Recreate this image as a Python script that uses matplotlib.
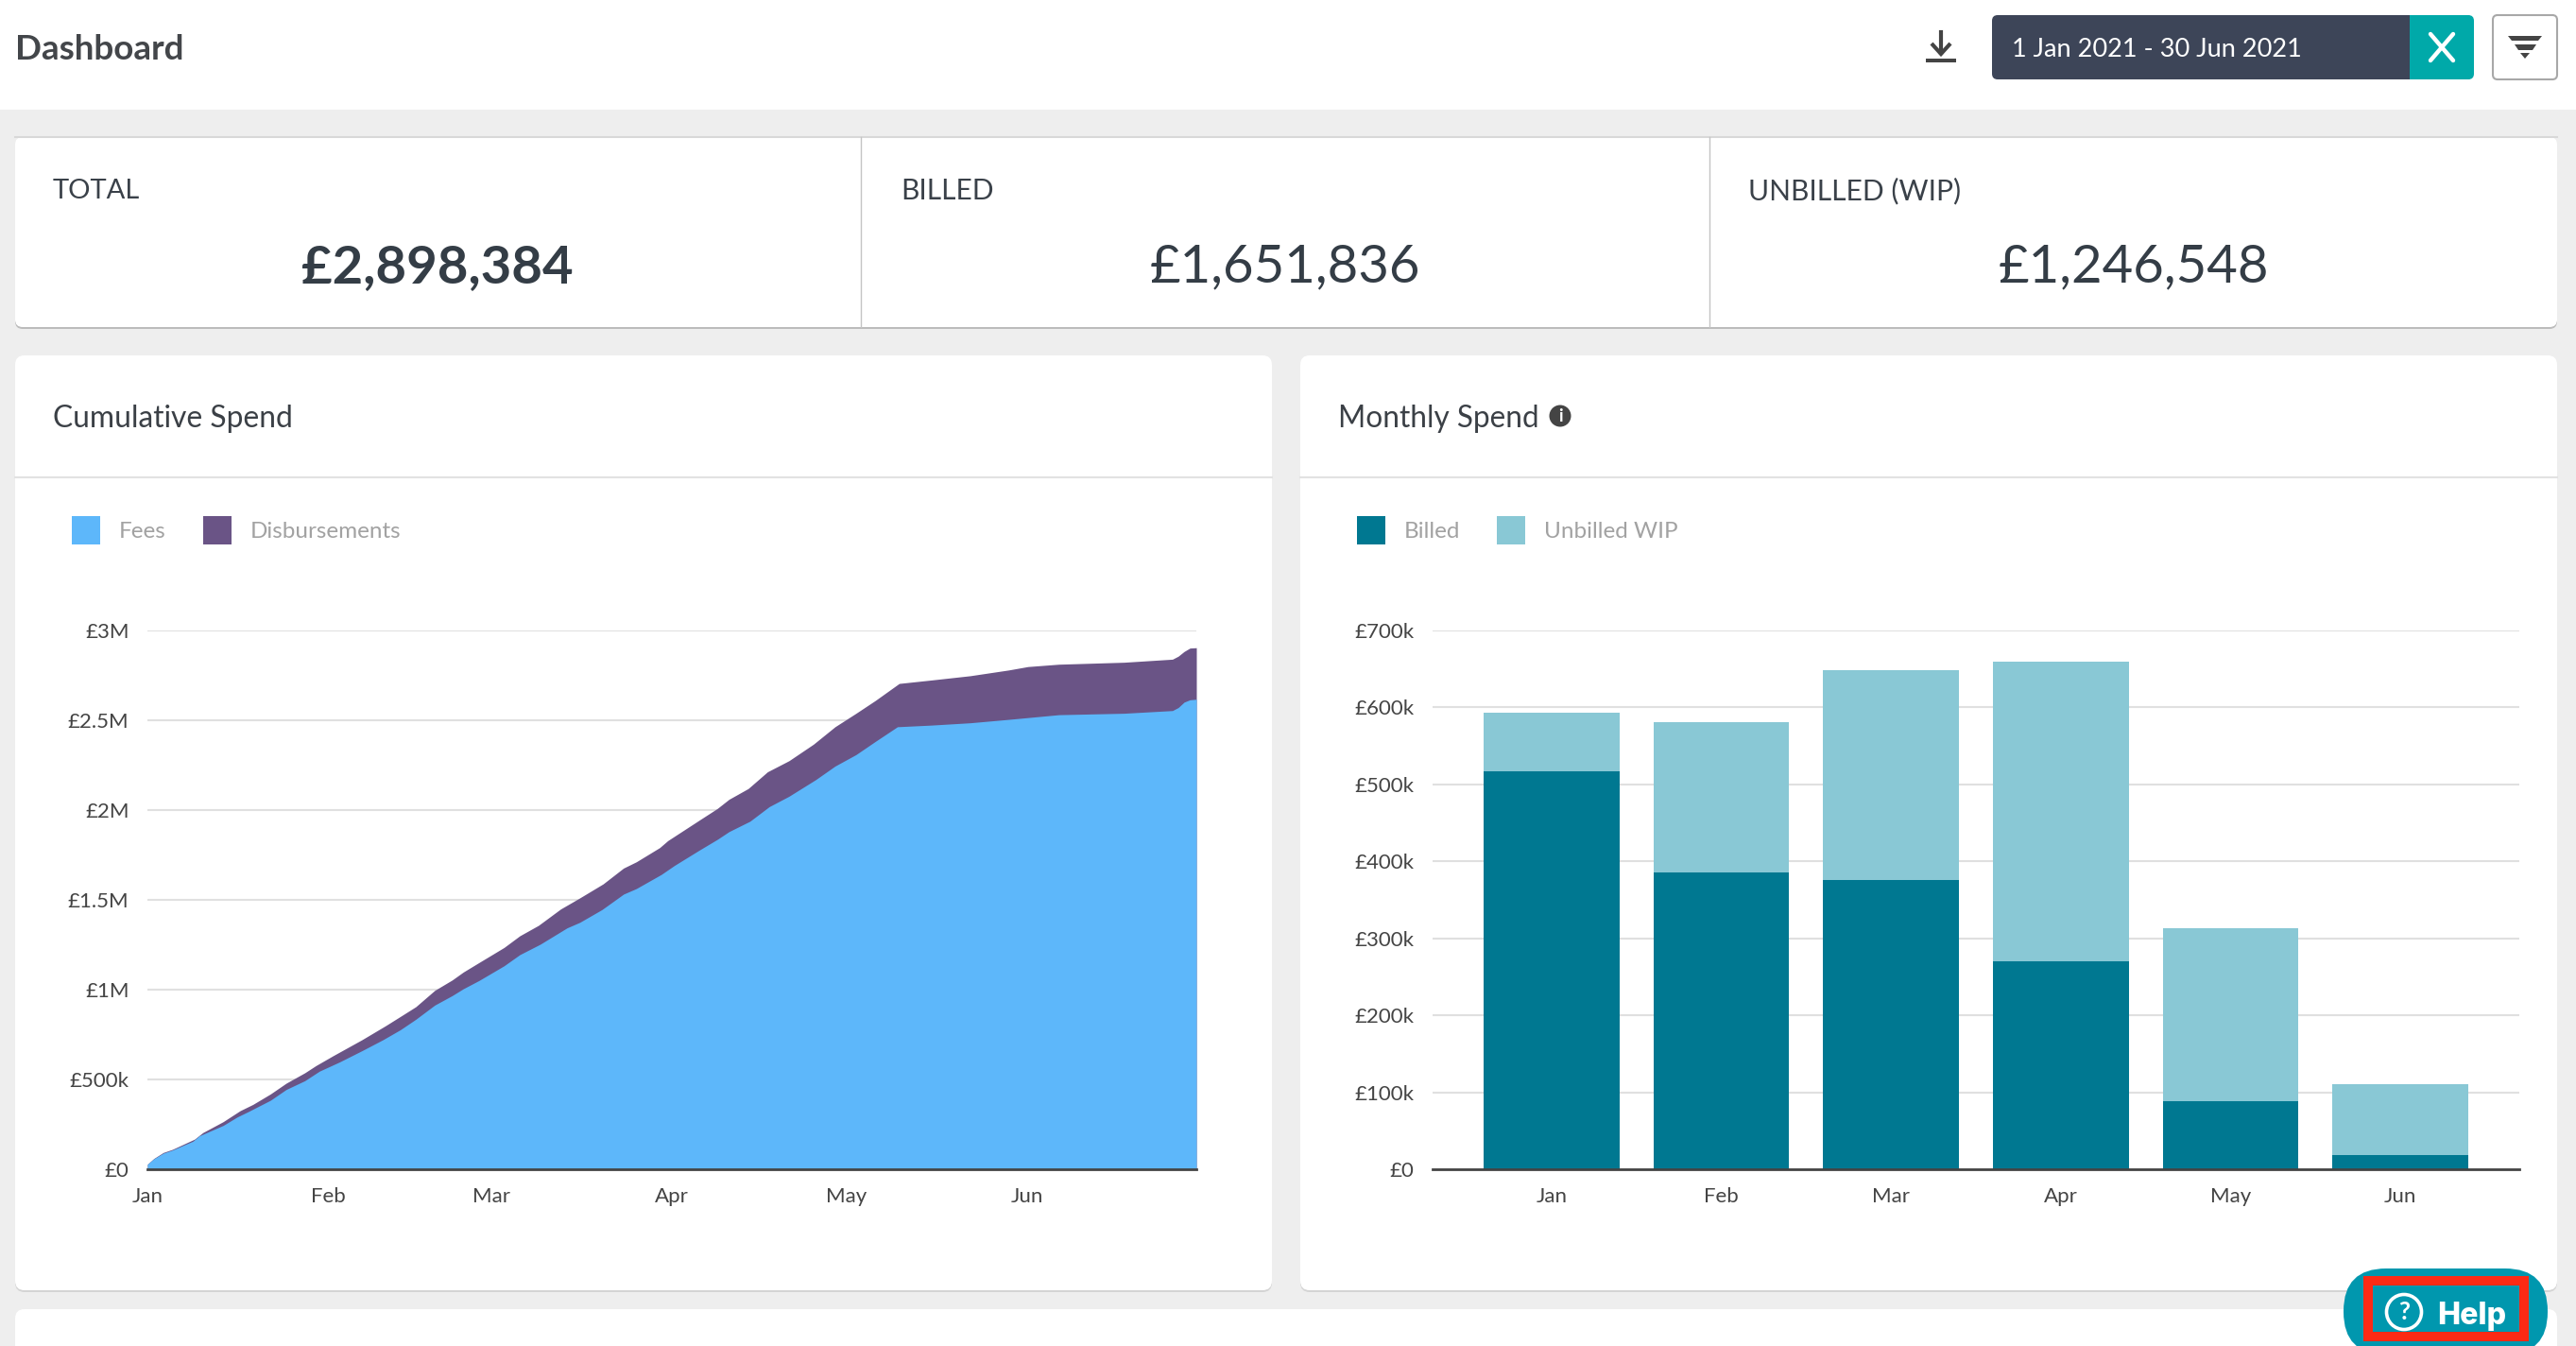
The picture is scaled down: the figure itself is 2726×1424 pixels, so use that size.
import matplotlib
matplotlib.use("Agg")
import matplotlib.pyplot as plt
from matplotlib.patches import FancyBboxPatch, Rectangle, Circle, Polygon, Patch

plt.rcParams['font.family'] = ['Lato', 'DejaVu Sans']

W, H = 2726, 1424

# cumulative chart, x is days since 1 Jan
fee_days = [0, 1.1, 2.7, 4.3, 7.8, 8.9, 13, 15.4, 17.3, 21.1, 23.8, 27, 29.5, 33, 36.8, 40.4, 43.4, 46.05,
            49.3, 52.3, 54.2, 56.9, 61.2, 63.9, 67.4, 72, 74.2, 78, 81.7, 83.9, 88.2, 90.4, 94.7, 97.8,
            99.8, 103.4, 106.7, 110.1, 114.7, 118, 121.6, 124.9, 128.7, 134.5, 141.2, 147.8, 156.4,
            167.6, 175.9, 176.9, 177.9, 178.9, 180]
fee_values = [0.028, 0.058, 0.089, 0.107, 0.156, 0.186, 0.244, 0.291, 0.321, 0.384, 0.444, 0.493, 0.546,
              0.598, 0.660, 0.721, 0.777, 0.835, 0.914, 0.967, 1.005, 1.051, 1.133, 1.195, 1.253, 1.344,
              1.375, 1.446, 1.532, 1.563, 1.642, 1.691, 1.777, 1.837, 1.880, 1.938, 2.019, 2.077, 2.170,
              2.245, 2.309, 2.382, 2.464, 2.473, 2.486, 2.505, 2.531, 2.539, 2.554, 2.571, 2.601, 2.614,
              2.617]
total_days = [0, 1.1, 2.7, 4.3, 8.1, 9.5, 13, 15.9, 18.1, 21.1, 23.8, 27, 28.9, 31.9, 36.8, 40.9, 43.9,
              46.05, 49.3, 52.3, 54.2, 56.9, 61.2, 63.9, 67.1, 70.9, 74.2, 78.2, 81.7, 83.9, 87.9, 89.3,
              94.7, 97.8, 99.8, 103.1, 106.4, 110.1, 114.3, 118, 121.6, 124.9, 129, 134.5, 141.2, 147.8,
              151.1, 156.4, 167.6, 175.9, 176.9, 177.9, 178.9, 180]
total_values = [0.028, 0.060, 0.093, 0.111, 0.168, 0.204, 0.265, 0.326, 0.361, 0.419, 0.479, 0.537, 0.577,
                0.633, 0.721, 0.800, 0.861, 0.905, 0.996, 1.054, 1.098, 1.151, 1.235, 1.300, 1.358, 1.449,
                1.511, 1.589, 1.677, 1.712, 1.791, 1.830, 1.944, 2.009, 2.060, 2.120, 2.213, 2.275, 2.367,
                2.464, 2.539, 2.610, 2.705, 2.724, 2.748, 2.780, 2.799, 2.812, 2.823, 2.840, 2.857, 2.883,
                2.902, 2.904]
month_days = [0, 31, 59, 90, 120, 151]
month_labels = ['Jan', 'Feb', 'Mar', 'Apr', 'May', 'Jun']
cum_ticks = [0, 0.5, 1, 1.5, 2, 2.5, 3]
cum_labels = ['£0', '£500k', '£1M', '£1.5M', '£2M', '£2.5M', '£3M']

# monthly chart, in thousands
billed = [516.8, 385.5, 375.3, 269.8, 88, 19]
unbilled = [76.2, 195.9, 273.2, 389.9, 224.6, 91.8]
monthly_ticks = [0, 100, 200, 300, 400, 500, 600, 700]
monthly_labels = ['£0', '£100k', '£200k', '£300k', '£400k', '£500k', '£600k', '£700k']

stat_titles = ['TOTAL', 'BILLED', 'UNBILLED (WIP)']
stat_values = ['£2,898,384', '£1,651,836', '£1,246,548']

DARK = '#3b4046'
FEES = '#5db7fa'
DISB = '#6a5486'
BILLED = '#007891'
UNBILLED = '#89c8d5'


def pixel_axes(x0, y0, x1, y1):
    return fig.add_axes([x0 / W, 1 - y1 / H, (x1 - x0) / W, (y1 - y0) / H])


def card(x0, y0, x1, y1, rad=10, shadow='#d4d4d4'):
    # soft shadow then white box
    bg.add_patch(FancyBboxPatch((x0 + rad, y0 + rad + 2), x1 - x0 - 2 * rad, y1 - y0 - 2 * rad,
                                boxstyle=f'round,pad={rad},rounding_size={rad}', fc=shadow, ec='none'))
    bg.add_patch(FancyBboxPatch((x0 + rad, y0 + rad), x1 - x0 - 2 * rad, y1 - y0 - 2 * rad,
                                boxstyle=f'round,pad={rad},rounding_size={rad}', fc='white', ec='none'))


def style_axes(ax):
    for side in ['top', 'left', 'right']:
        ax.spines[side].set_visible(False)
    ax.spines['bottom'].set_color('#444444')
    ax.spines['bottom'].set_linewidth(2)
    ax.grid(axis='y', color='#e0e0e0', linewidth=1.5)
    ax.set_axisbelow(True)
    ax.tick_params(axis='both', length=0, labelsize=16, labelcolor='#444444')
    ax.tick_params(axis='y', pad=14)
    ax.tick_params(axis='x', pad=13.5)
    for label in ax.get_yticklabels():
        label.set_verticalalignment('center_baseline')


fig = plt.figure(figsize=(W / 100, H / 100), dpi=100, facecolor='#eeeeee')
bg = fig.add_axes([0, 0, 1, 1])
bg.set_xlim(0, W)
bg.set_ylim(H, 0)
bg.axis('off')

# top bar
bg.add_patch(Rectangle((0, 0), W, 116, fc='white', ec='none'))
bg.text(16, 52.5, 'Dashboard', fontsize=26.5, fontweight='bold', color='#43464a', va='center')
bg.plot([2054, 2054], [34, 56], color='#444444', lw=3)
bg.add_patch(Polygon([[2044, 46], [2054, 57], [2064, 46]], closed=False, fc='none', ec='#444444', lw=3))
bg.add_patch(Rectangle((2038, 62), 32, 4, fc='#444444', ec='none'))
bg.add_patch(FancyBboxPatch((2112, 20), 500, 60, boxstyle='round,pad=4,rounding_size=6', fc='#3d4558', ec='none'))
bg.add_patch(FancyBboxPatch((2554, 20), 60, 60, boxstyle='round,pad=4,rounding_size=6', fc='#00a9a9', ec='none'))
bg.add_patch(Rectangle((2550, 16), 20, 68, fc='#00a9a9', ec='none'))
bg.text(2129, 52, '1 Jan 2021 - 30 Jun 2021', fontsize=19.5, color='white', va='center')
bg.plot([2572, 2596], [36, 64], color='white', lw=3.2, solid_capstyle='round')
bg.plot([2596, 2572], [36, 64], color='white', lw=3.2, solid_capstyle='round')
bg.add_patch(FancyBboxPatch((2642, 20), 60, 60, boxstyle='round,pad=4,rounding_size=5', fc='white', ec='#a8a8a8', lw=1.5))
bg.add_patch(Polygon([[2654, 38], [2690, 38], [2686, 43], [2658, 43]], fc='#444444', ec='none'))
bg.add_patch(Polygon([[2661, 47], [2684, 47], [2680, 53], [2665, 53]], fc='#444444', ec='none'))
bg.add_patch(Polygon([[2667, 56], [2677, 56], [2672, 62]], fc='#444444', ec='none'))

# stat cards
card(16, 145, 2706, 346, rad=8, shadow='#bcbcbc')
bg.plot([16, 2706], [145, 145], color='#d8d8d8', lw=1.5)
for x in [911, 1809]:
    bg.plot([x, x], [145, 346], color='#c4c4c4', lw=1)
for x0, cx, title, value, weight, title_size in zip([56, 953, 1850], [463, 1360, 2258], stat_titles, stat_values,
                                                    ['bold', 'normal', 'normal'], [21, 21.5, 21.6]):
    bg.text(x0, 202, title, fontsize=title_size, color='#3a4149', va='center')
    bg.text(cx, 283, value, fontsize=40.5, color='#343d46', va='center', ha='center', fontweight=weight)

# chart cards
card(16, 376, 1346, 1365)
card(1376, 376, 2706, 1365)
card(16, 1385, 2706, 1500)
for x0, x1 in [(16, 1346), (1376, 2706)]:
    bg.plot([x0, x1], [505, 505], color='#e2e2e2', lw=1.5)
bg.text(56, 443, 'Cumulative Spend', fontsize=22.9, color=DARK, va='center')
bg.text(1416, 443, 'Monthly Spend', fontsize=22.7, color=DARK, va='center')
bg.add_patch(Circle((1651, 440), 11.5, fc='#444444', ec='none'))
bg.text(1651, 440, 'i', fontsize=13, fontweight='bold', color='white', va='center', ha='center')

# cumulative spend
ax1 = pixel_axes(156, 667, 1266, 1237)
ax1.patch.set_alpha(0)
ax1.fill_between(total_days, total_values, color=DISB, lw=0)
ax1.fill_between(fee_days, fee_values, color=FEES, lw=0)
ax1.set_xlim(0, 180)
ax1.set_ylim(0, 3)
ax1.set_xticks(month_days, month_labels)
ax1.set_yticks(cum_ticks, cum_labels)
style_axes(ax1)

# monthly spend
ax2 = pixel_axes(1516, 667, 2666, 1237)
ax2.patch.set_alpha(0)
ax2.bar(month_labels, billed, width=0.8, color=BILLED)
ax2.bar(month_labels, unbilled, width=0.8, bottom=billed, color=UNBILLED)
ax2.set_xlim(-0.70, 5.70)
ax2.set_ylim(0, 700)
ax2.set_yticks(monthly_ticks, monthly_labels)
style_axes(ax2)

# legends
for ax, x, names, colors in [(ax1, 76, ['Fees', 'Disbursements'], [FEES, DISB]),
                             (ax2, 1436, ['Billed', 'Unbilled WIP'], [BILLED, UNBILLED])]:
    ax.legend(handles=[Patch(fc=c, ec='none', label=n) for c, n in zip(colors, names)],
              loc='upper left', bbox_to_anchor=(x, 546), bbox_transform=bg.transData, ncol=2,
              frameon=False, fontsize=17.5, labelcolor='#a2a2a2', borderpad=0, borderaxespad=0,
              handlelength=1.24, handleheight=1.55, handletextpad=0.82, columnspacing=1.6)

# help button
top = fig.add_axes([0, 0, 1, 1])
top.set_xlim(0, W)
top.set_ylim(H, 0)
top.axis('off')
top.add_patch(FancyBboxPatch((2525, 1387), 126, 1, boxstyle='round,pad=45,rounding_size=45', fc='#0097ae', ec='none'))
top.add_patch(Rectangle((2506, 1355), 165, 59, fc='none', ec='#fc2a14', lw=7.2))
top.add_patch(Circle((2544, 1388), 18.5, fc='none', ec='white', lw=2.6))
top.text(2544, 1388, '?', fontsize=19, fontweight='bold', color='white', ha='center', va='center')
top.text(2579, 1392, 'Help', fontsize=23.2, fontweight='heavy', color='white', va='center',
         family=['Inter', 'DejaVu Sans'])

fig.savefig('out.png', dpi=100, facecolor=fig.get_facecolor())
